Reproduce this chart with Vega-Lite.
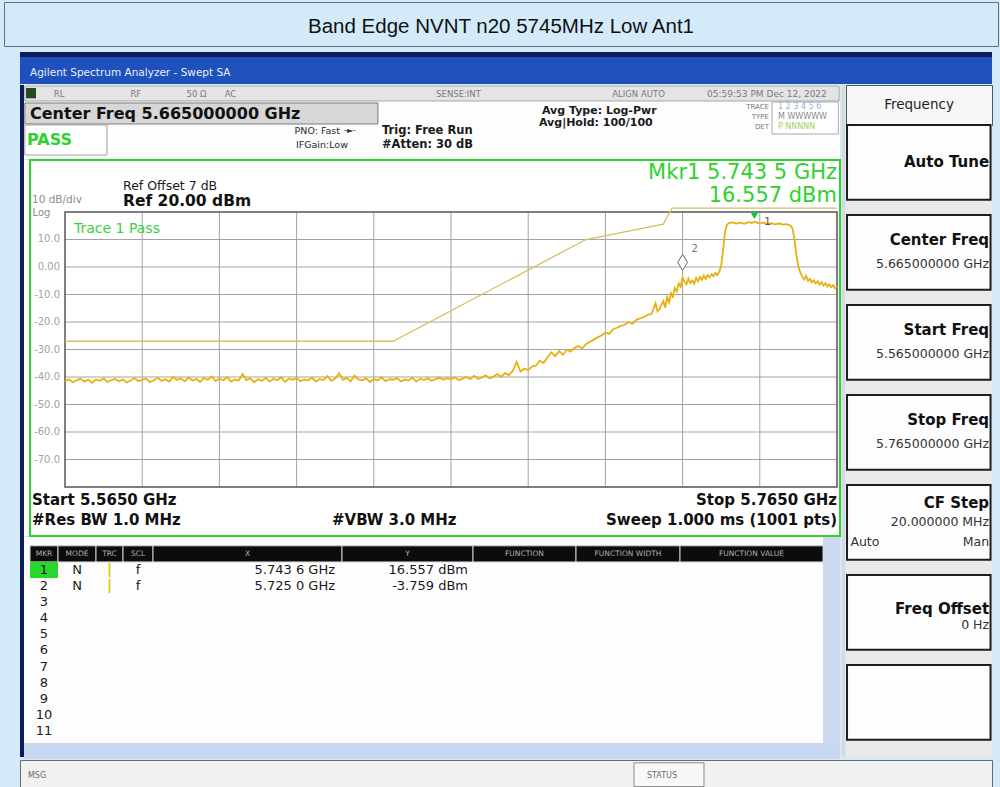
{
"$schema": "https://vega.github.io/schema/vega-lite/v6.json",
"background": "#d3ebf8",
"padding": {"left": 3, "top": 1, "right": 3, "bottom": 5},
"spacing": 5,
"config": {"view": {"stroke": null}, "axis": {"disable": true}, "legend": {"disable": true}, "text": {"font": "DejaVu Sans"}, "concat": {"spacing": 0}},
"datasets": {
"vgrid": [{"f":5.585},{"f":5.605},{"f":5.625},{"f":5.645},{"f":5.665},{"f":5.685},{"f":5.705},{"f":5.725},{"f":5.745}],
"hgrid": [{"l":10,"t":"10.0"},{"l":0,"t":"0.00"},{"l":-10,"t":"-10.0"},{"l":-20,"t":"-20.0"},{"l":-30,"t":"-30.0"},{"l":-40,"t":"-40.0"},{"l":-50,"t":"-50.0"},{"l":-60,"t":"-60.0"},{"l":-70,"t":"-70.0"}],
"limit": [{"f":5.565,"l":-27},{"f":5.65,"l":-27},{"f":5.7,"l":10},{"f":5.72,"l":15.6},{"f":5.7223,"l":21.4},{"f":5.765,"l":21.4}],
"markers": [{"mkr":"1","f":5.7436,"l":16.557},{"mkr":"2","f":5.725,"l":-3.759}],
"trace": [
{"f":5.565,"l":-41.5},{"f":5.566,"l":-40.8},{"f":5.567,"l":-41.9},{"f":5.568,"l":-41.2},{"f":5.569,"l":-40.6},{"f":5.570,"l":-41.7},{"f":5.571,"l":-41.0},{"f":5.572,"l":-42.1},{"f":5.573,"l":-40.9},{"f":5.574,"l":-41.4},
{"f":5.575,"l":-40.5},{"f":5.576,"l":-41.8},{"f":5.577,"l":-41.1},{"f":5.578,"l":-40.7},{"f":5.579,"l":-41.6},{"f":5.580,"l":-40.9},{"f":5.581,"l":-42.0},{"f":5.582,"l":-41.3},{"f":5.583,"l":-40.4},{"f":5.584,"l":-41.5},
{"f":5.585,"l":-41.0},{"f":5.586,"l":-40.6},{"f":5.587,"l":-41.9},{"f":5.588,"l":-41.2},{"f":5.589,"l":-40.3},{"f":5.590,"l":-41.4},{"f":5.591,"l":-40.8},{"f":5.592,"l":-41.7},{"f":5.593,"l":-39.9},{"f":5.594,"l":-41.1},
{"f":5.595,"l":-40.5},{"f":5.596,"l":-41.6},{"f":5.597,"l":-40.2},{"f":5.598,"l":-41.3},{"f":5.599,"l":-40.7},{"f":5.600,"l":-41.8},{"f":5.601,"l":-40.4},{"f":5.602,"l":-41.0},{"f":5.603,"l":-39.8},{"f":5.604,"l":-41.5},
{"f":5.605,"l":-40.6},{"f":5.606,"l":-41.2},{"f":5.607,"l":-40.0},{"f":5.608,"l":-41.7},{"f":5.609,"l":-40.9},{"f":5.610,"l":-41.3},{"f":5.611,"l":-38.9},{"f":5.612,"l":-41.1},{"f":5.613,"l":-40.5},{"f":5.614,"l":-41.9},
{"f":5.615,"l":-40.8},{"f":5.616,"l":-41.4},{"f":5.617,"l":-40.3},{"f":5.618,"l":-41.6},{"f":5.619,"l":-40.7},{"f":5.620,"l":-41.2},{"f":5.621,"l":-40.1},{"f":5.622,"l":-41.8},{"f":5.623,"l":-40.6},{"f":5.624,"l":-41.0},
{"f":5.625,"l":-40.4},{"f":5.626,"l":-41.5},{"f":5.627,"l":-40.9},{"f":5.628,"l":-41.3},{"f":5.629,"l":-40.2},{"f":5.630,"l":-41.7},{"f":5.631,"l":-40.8},{"f":5.632,"l":-41.1},{"f":5.633,"l":-39.7},{"f":5.634,"l":-41.4},
{"f":5.635,"l":-40.6},{"f":5.636,"l":-38.6},{"f":5.637,"l":-41.0},{"f":5.638,"l":-40.3},{"f":5.639,"l":-41.6},{"f":5.640,"l":-39.5},{"f":5.641,"l":-40.9},{"f":5.642,"l":-41.2},{"f":5.643,"l":-40.5},{"f":5.644,"l":-41.8},
{"f":5.645,"l":-40.7},{"f":5.646,"l":-41.3},{"f":5.647,"l":-40.1},{"f":5.648,"l":-41.5},{"f":5.649,"l":-40.8},{"f":5.650,"l":-41.0},{"f":5.651,"l":-40.4},{"f":5.652,"l":-41.6},{"f":5.653,"l":-40.9},{"f":5.654,"l":-41.2},
{"f":5.655,"l":-40.3},{"f":5.656,"l":-41.7},{"f":5.657,"l":-40.6},{"f":5.658,"l":-41.1},{"f":5.659,"l":-40.5},{"f":5.660,"l":-41.4},{"f":5.661,"l":-40.8},{"f":5.662,"l":-40.2},{"f":5.663,"l":-41.0},{"f":5.664,"l":-40.4},
{"f":5.665,"l":-40.9},{"f":5.666,"l":-40.1},{"f":5.667,"l":-41.2},{"f":5.668,"l":-40.6},{"f":5.669,"l":-40.0},{"f":5.670,"l":-40.8},{"f":5.671,"l":-39.6},{"f":5.672,"l":-40.7},{"f":5.673,"l":-40.2},{"f":5.674,"l":-39.4},
{"f":5.675,"l":-40.5},{"f":5.676,"l":-39.8},{"f":5.677,"l":-38.9},{"f":5.678,"l":-39.9},{"f":5.679,"l":-38.6},{"f":5.680,"l":-39.3},{"f":5.681,"l":-37.8},{"f":5.682,"l":-34.5},{"f":5.683,"l":-38.0},{"f":5.684,"l":-36.9},
{"f":5.685,"l":-37.5},{"f":5.686,"l":-36.2},{"f":5.687,"l":-35.8},{"f":5.688,"l":-34.1},{"f":5.689,"l":-34.9},{"f":5.690,"l":-32.8},{"f":5.691,"l":-31.0},{"f":5.692,"l":-32.4},{"f":5.693,"l":-30.6},{"f":5.694,"l":-31.9},
{"f":5.695,"l":-30.1},{"f":5.696,"l":-30.8},{"f":5.697,"l":-29.4},{"f":5.698,"l":-28.7},{"f":5.699,"l":-29.6},{"f":5.700,"l":-28.0},{"f":5.701,"l":-27.2},{"f":5.702,"l":-26.4},{"f":5.703,"l":-25.6},{"f":5.704,"l":-24.9},
{"f":5.705,"l":-23.8},{"f":5.706,"l":-24.3},{"f":5.707,"l":-22.6},{"f":5.708,"l":-22.1},{"f":5.709,"l":-21.4},{"f":5.710,"l":-21.0},{"f":5.711,"l":-20.1},{"f":5.712,"l":-20.6},{"f":5.713,"l":-19.2},{"f":5.714,"l":-18.7},
{"f":5.715,"l":-18.2},{"f":5.716,"l":-17.4},{"f":5.717,"l":-17.0},{"f":5.718,"l":-13.2},{"f":5.7185,"l":-16.1},{"f":5.719,"l":-15.3},{"f":5.720,"l":-12.4},{"f":5.7205,"l":-14.8},{"f":5.721,"l":-11.0},{"f":5.7215,"l":-12.9},
{"f":5.722,"l":-9.5},{"f":5.7225,"l":-10.8},{"f":5.723,"l":-7.6},{"f":5.7235,"l":-8.9},{"f":5.724,"l":-6.0},{"f":5.7245,"l":-7.2},{"f":5.725,"l":-3.76},{"f":5.7255,"l":-5.4},{"f":5.726,"l":-6.3},{"f":5.7265,"l":-4.2},
{"f":5.727,"l":-5.8},{"f":5.7275,"l":-4.9},{"f":5.728,"l":-6.1},{"f":5.7285,"l":-4.0},{"f":5.729,"l":-5.2},{"f":5.7295,"l":-3.6},{"f":5.730,"l":-4.7},{"f":5.7305,"l":-3.1},{"f":5.731,"l":-4.4},{"f":5.7315,"l":-2.9},
{"f":5.732,"l":-3.8},{"f":5.7325,"l":-2.6},{"f":5.733,"l":-3.3},{"f":5.7335,"l":-2.2},{"f":5.734,"l":-2.9},{"f":5.7345,"l":-1.8},{"f":5.735,"l":0.5},{"f":5.7355,"l":6.2},{"f":5.736,"l":12.8},{"f":5.7365,"l":15.4},
{"f":5.737,"l":16.0},{"f":5.738,"l":16.2},{"f":5.739,"l":15.8},{"f":5.740,"l":16.1},{"f":5.741,"l":15.7},{"f":5.742,"l":16.3},{"f":5.743,"l":16.0},{"f":5.7436,"l":16.557},{"f":5.744,"l":16.2},{"f":5.745,"l":15.9},
{"f":5.746,"l":16.1},{"f":5.747,"l":15.6},{"f":5.748,"l":15.9},{"f":5.749,"l":15.5},{"f":5.750,"l":15.8},{"f":5.751,"l":15.4},{"f":5.752,"l":15.6},{"f":5.753,"l":15.0},{"f":5.7535,"l":13.9},{"f":5.754,"l":9.8},
{"f":5.7545,"l":4.1},{"f":5.755,"l":0.2},{"f":5.7555,"l":-2.1},{"f":5.756,"l":-3.5},{"f":5.7565,"l":-4.6},{"f":5.757,"l":-3.2},{"f":5.7575,"l":-5.1},{"f":5.758,"l":-4.3},{"f":5.7585,"l":-5.6},{"f":5.759,"l":-4.8},
{"f":5.7595,"l":-6.0},{"f":5.760,"l":-5.2},{"f":5.7605,"l":-6.4},{"f":5.761,"l":-5.5},{"f":5.7615,"l":-6.8},{"f":5.762,"l":-5.9},{"f":5.7625,"l":-7.1},{"f":5.763,"l":-6.3},{"f":5.7635,"l":-7.4},{"f":5.764,"l":-6.6},
{"f":5.7645,"l":-7.8},{"f":5.765,"l":-7.0}],
"tbl": [
{"row":0,"mkr":"MKR","mode":"MODE","trc":"TRC","scl":"SCL","x":"X","y":"Y","fn":"FUNCTION","fw":"FUNCTION WIDTH","fv":"FUNCTION VALUE"},
{"row":1,"mkr":"1","mode":"N","trc":"|","scl":"f","x":"5.743 6 GHz","y":"16.557 dBm","fn":"","fw":"","fv":""},
{"row":2,"mkr":"2","mode":"N","trc":"|","scl":"f","x":"5.725 0 GHz","y":"-3.759 dBm","fn":"","fw":"","fv":""},
{"row":3,"mkr":"3","mode":"","trc":"","scl":"","x":"","y":"","fn":"","fw":"","fv":""},
{"row":4,"mkr":"4","mode":"","trc":"","scl":"","x":"","y":"","fn":"","fw":"","fv":""},
{"row":5,"mkr":"5","mode":"","trc":"","scl":"","x":"","y":"","fn":"","fw":"","fv":""},
{"row":6,"mkr":"6","mode":"","trc":"","scl":"","x":"","y":"","fn":"","fw":"","fv":""},
{"row":7,"mkr":"7","mode":"","trc":"","scl":"","x":"","y":"","fn":"","fw":"","fv":""},
{"row":8,"mkr":"8","mode":"","trc":"","scl":"","x":"","y":"","fn":"","fw":"","fv":""},
{"row":9,"mkr":"9","mode":"","trc":"","scl":"","x":"","y":"","fn":"","fw":"","fv":""},
{"row":10,"mkr":"10","mode":"","trc":"","scl":"","x":"","y":"","fn":"","fw":"","fv":""},
{"row":11,"mkr":"11","mode":"","trc":"","scl":"","x":"","y":"","fn":"","fw":"","fv":""}],
"keys": [
{"k":"k1","title":"Auto Tune","value":"","optL":"","optR":""},
{"k":"k2","title":"Center Freq","value":"5.665000000 GHz","optL":"","optR":""},
{"k":"k3","title":"Start Freq","value":"5.565000000 GHz","optL":"","optR":""},
{"k":"k4","title":"Stop Freq","value":"5.765000000 GHz","optL":"","optR":""},
{"k":"k5","title":"CF Step","value":"20.000000 MHz","optL":"Auto","optR":"Man"},
{"k":"k6","title":"Freq Offset","value":"0 Hz","optL":"","optR":""},
{"k":"k7","title":"","value":"","optL":"","optR":""}]
},
"vconcat": [
{"width": 994, "height": 44, "view": {"stroke": "#5f6f7c", "strokeWidth": 1}, "data": {"values": [{}]},
 "mark": {"type": "text", "text": "Band Edge NVNT n20 5745MHz Low Ant1", "font": "Liberation Sans", "fontSize": 20.5, "color": "#111111", "dy": 3}},
{"spacing": 0, "hconcat": [
 {"width": 15, "height": 732, "view": {"fill": "#d3ebf8"}, "data": {"values": []}, "mark": "rect", "encoding": {}},
 {"spacing": 0, "vconcat": [
  {"width": 972, "height": 5, "view": {"fill": "#0d1c58"}, "data": {"values": []}, "mark": "rect", "encoding": {}},
  {"width": 972, "height": 27, "view": {"fill": "#1f51bd"}, "data": {"values": [{}]},
   "mark": {"type": "text", "text": "Agilent Spectrum Analyzer - Swept SA", "align": "left", "fontSize": 10.5, "color": "#e8eeff"},
   "encoding": {"x": {"datum": 0.0103, "type": "quantitative", "scale": {"domain": [0, 1], "nice": false, "zero": false}}, "y": {"datum": 0.59, "type": "quantitative", "scale": {"domain": [0, 1], "nice": false, "zero": false, "reverse": true}}}},
  {"spacing": 0, "hconcat": [
   {"width": 4, "height": 672, "view": {"fill": "#0d1c58"}, "data": {"values": []}, "mark": "rect", "encoding": {}},
   {"spacing": 0, "vconcat": [
    {"width": 816, "height": 74, "view": {"fill": "#fdfdfd"}, "data": {"values": [{}]},
     "layer": [
      {"mark": {"type": "rect", "fill": "#e4e4e4", "stroke": "#a6a6a6", "strokeWidth": 1}, "encoding": {"x": {"datum": 0.001, "type": "quantitative", "scale": {"domain": [0, 1], "nice": false, "zero": false}}, "x2": {"datum": 0.999}, "y": {"datum": 0.0135, "type": "quantitative", "scale": {"domain": [0, 1], "nice": false, "zero": false, "reverse": true}}, "y2": {"datum": 0.2162}}},
      {"mark": {"type": "rect", "fill": "#234a23"}, "encoding": {"x": {"datum": 0.0025, "type": "quantitative"}, "x2": {"datum": 0.0147}, "y": {"datum": 0.04, "type": "quantitative"}, "y2": {"datum": 0.18}}},
      {"mark": {"type": "rect", "fill": "#d7d7d7", "stroke": "#7d7d7d", "strokeWidth": 1}, "encoding": {"x": {"datum": 0.001, "type": "quantitative"}, "x2": {"datum": 0.4338}, "y": {"datum": 0.2432, "type": "quantitative"}, "y2": {"datum": 0.527}}},
      {"mark": {"type": "rect", "fill": "#ffffff", "stroke": "#a0a0a0", "strokeWidth": 1}, "encoding": {"x": {"datum": 0.001, "type": "quantitative"}, "x2": {"datum": 0.1017}, "y": {"datum": 0.5405, "type": "quantitative"}, "y2": {"datum": 0.946}}},
      {"mark": {"type": "rect", "fill": "#ffffff", "stroke": "#a8a8a8", "strokeWidth": 1}, "encoding": {"x": {"datum": 0.9167, "type": "quantitative"}, "x2": {"datum": 0.998}, "y": {"datum": 0.2297, "type": "quantitative"}, "y2": {"datum": 0.662}}},
      {"mark": {"type": "text", "text": "RL", "fontSize": 8.5, "color": "#7a7a7a"}, "encoding": {"x": {"datum": 0.043, "type": "quantitative"}, "y": {"datum": 0.115, "type": "quantitative"}}},
      {"mark": {"type": "text", "text": "RF", "fontSize": 8.5, "color": "#7a7a7a"}, "encoding": {"x": {"datum": 0.137, "type": "quantitative"}, "y": {"datum": 0.115, "type": "quantitative"}}},
      {"mark": {"type": "text", "text": "50 Ω", "fontSize": 8.5, "color": "#7a7a7a"}, "encoding": {"x": {"datum": 0.2114, "type": "quantitative"}, "y": {"datum": 0.115, "type": "quantitative"}}},
      {"mark": {"type": "text", "text": "AC", "fontSize": 8.5, "color": "#7a7a7a"}, "encoding": {"x": {"datum": 0.253, "type": "quantitative"}, "y": {"datum": 0.115, "type": "quantitative"}}},
      {"mark": {"type": "text", "text": "SENSE:INT", "fontSize": 8.5, "color": "#7a7a7a"}, "encoding": {"x": {"datum": 0.5325, "type": "quantitative"}, "y": {"datum": 0.115, "type": "quantitative"}}},
      {"mark": {"type": "text", "text": "ALIGN AUTO", "fontSize": 8.5, "color": "#7a7a7a"}, "encoding": {"x": {"datum": 0.7531, "type": "quantitative"}, "y": {"datum": 0.115, "type": "quantitative"}}},
      {"mark": {"type": "text", "text": "05:59:53 PM Dec 12, 2022", "fontSize": 9, "color": "#7a7a7a"}, "encoding": {"x": {"datum": 0.9105, "type": "quantitative"}, "y": {"datum": 0.115, "type": "quantitative"}}},
      {"mark": {"type": "text", "text": "Center Freq 5.665000000 GHz", "align": "left", "fontSize": 16, "fontWeight": "bold", "color": "#111111"}, "encoding": {"x": {"datum": 0.00735, "type": "quantitative"}, "y": {"datum": 0.392, "type": "quantitative"}}},
      {"mark": {"type": "text", "text": "PASS", "align": "left", "fontSize": 16, "fontWeight": "bold", "color": "#2ed12e"}, "encoding": {"x": {"datum": 0.00368, "type": "quantitative"}, "y": {"datum": 0.743, "type": "quantitative"}}},
      {"mark": {"type": "text", "text": "PNO: Fast", "align": "right", "fontSize": 9.5, "color": "#2a2a2a"}, "encoding": {"x": {"datum": 0.3873, "type": "quantitative"}, "y": {"datum": 0.6216, "type": "quantitative"}}},
      {"mark": {"type": "text", "text": "-►-", "align": "left", "fontSize": 8, "color": "#2a2a2a"}, "encoding": {"x": {"datum": 0.3922, "type": "quantitative"}, "y": {"datum": 0.6216, "type": "quantitative"}}},
      {"mark": {"type": "text", "text": "IFGain:Low", "align": "right", "fontSize": 9.5, "color": "#2a2a2a"}, "encoding": {"x": {"datum": 0.397, "type": "quantitative"}, "y": {"datum": 0.8108, "type": "quantitative"}}},
      {"mark": {"type": "text", "text": "Trig: Free Run", "align": "left", "fontSize": 11.5, "fontWeight": "bold", "color": "#1a1a1a"}, "encoding": {"x": {"datum": 0.4387, "type": "quantitative"}, "y": {"datum": 0.628, "type": "quantitative"}}},
      {"mark": {"type": "text", "text": "#Atten: 30 dB", "align": "left", "fontSize": 11.5, "fontWeight": "bold", "color": "#1a1a1a"}, "encoding": {"x": {"datum": 0.4387, "type": "quantitative"}, "y": {"datum": 0.807, "type": "quantitative"}}},
      {"mark": {"type": "text", "text": "Avg Type: Log-Pwr", "align": "left", "fontSize": 11, "fontWeight": "bold", "color": "#1a1a1a"}, "encoding": {"x": {"datum": 0.6348, "type": "quantitative"}, "y": {"datum": 0.345, "type": "quantitative"}}},
      {"mark": {"type": "text", "text": "Avg|Hold: 100/100", "align": "left", "fontSize": 11, "fontWeight": "bold", "color": "#1a1a1a"}, "encoding": {"x": {"datum": 0.6311, "type": "quantitative"}, "y": {"datum": 0.51, "type": "quantitative"}}},
      {"mark": {"type": "text", "text": "TRACE", "align": "right", "fontSize": 7, "color": "#777777"}, "encoding": {"x": {"datum": 0.913, "type": "quantitative"}, "y": {"datum": 0.297, "type": "quantitative"}}},
      {"mark": {"type": "text", "text": "TYPE", "align": "right", "fontSize": 7, "color": "#777777"}, "encoding": {"x": {"datum": 0.913, "type": "quantitative"}, "y": {"datum": 0.4324, "type": "quantitative"}}},
      {"mark": {"type": "text", "text": "DET", "align": "right", "fontSize": 7, "color": "#777777"}, "encoding": {"x": {"datum": 0.913, "type": "quantitative"}, "y": {"datum": 0.5676, "type": "quantitative"}}},
      {"mark": {"type": "text", "text": "1 2 3 4 5 6", "align": "left", "fontSize": 8, "color": "#8ab4d8"}, "encoding": {"x": {"datum": 0.924, "type": "quantitative"}, "y": {"datum": 0.297, "type": "quantitative"}}},
      {"mark": {"type": "text", "text": "M WWWWW", "align": "left", "fontSize": 8, "color": "#8a8a8a"}, "encoding": {"x": {"datum": 0.924, "type": "quantitative"}, "y": {"datum": 0.4324, "type": "quantitative"}}},
      {"mark": {"type": "text", "text": "P NNNNN", "align": "left", "fontSize": 8, "color": "#a6cc66"}, "encoding": {"x": {"datum": 0.924, "type": "quantitative"}, "y": {"datum": 0.5676, "type": "quantitative"}}}
     ]},
    {"spacing": 0, "bounds": "flush", "hconcat": [
     {"width": 6, "height": 376, "view": {"fill": "#fdfdfd"}, "data": {"values": []}, "mark": "rect", "encoding": {}},
     {"width": 810, "height": 376, "view": {"fill": "#ffffff", "stroke": "#2bd42b", "strokeWidth": 2},
      "layer": [
       {"data": {"name": "vgrid"}, "mark": {"type": "rule", "color": "#a3a3a3", "strokeWidth": 1}, "encoding": {"x": {"field": "f", "type": "quantitative", "scale": {"domain": [5.55593, 5.76578], "nice": false, "zero": false}}, "y": {"datum": -80, "type": "quantitative", "scale": {"domain": [-97.818, 38.909], "nice": false, "zero": false}}, "y2": {"datum": 20}}},
       {"data": {"name": "hgrid"}, "mark": {"type": "rule", "color": "#a3a3a3", "strokeWidth": 1}, "encoding": {"y": {"field": "l", "type": "quantitative"}, "x": {"datum": 5.565, "type": "quantitative"}, "x2": {"datum": 5.765}}},
       {"data": {"name": "hgrid"}, "mark": {"type": "text", "align": "right", "dx": -5, "fontSize": 10, "color": "#a2a2a2"}, "encoding": {"y": {"field": "l", "type": "quantitative"}, "x": {"datum": 5.565, "type": "quantitative"}, "text": {"field": "t"}}},
       {"data": {"values": [{}]}, "mark": {"type": "rect", "fillOpacity": 0, "stroke": "#555555", "strokeWidth": 1.5}, "encoding": {"x": {"datum": 5.565, "type": "quantitative"}, "x2": {"datum": 5.765}, "y": {"datum": -80, "type": "quantitative"}, "y2": {"datum": 20}}},
       {"data": {"name": "limit"}, "mark": {"type": "line", "color": "#d4c060", "strokeWidth": 1.3}, "encoding": {"x": {"field": "f", "type": "quantitative"}, "y": {"field": "l", "type": "quantitative"}}},
       {"data": {"name": "trace"}, "mark": {"type": "line", "color": "#e8b010", "strokeWidth": 1.8}, "encoding": {"x": {"field": "f", "type": "quantitative"}, "y": {"field": "l", "type": "quantitative"}}},
       {"data": {"name": "markers"}, "transform": [{"filter": "datum.mkr == '1'"}], "mark": {"type": "point", "shape": "triangle-down", "filled": true, "color": "#22c03a", "size": 70, "opacity": 1, "yOffset": -6}, "encoding": {"x": {"field": "f", "type": "quantitative"}, "y": {"field": "l", "type": "quantitative"}}},
       {"data": {"name": "markers"}, "transform": [{"filter": "datum.mkr == '1'"}], "mark": {"type": "text", "dx": 13, "dy": 1, "fontSize": 11, "color": "#555555"}, "encoding": {"x": {"field": "f", "type": "quantitative"}, "y": {"field": "l", "type": "quantitative"}, "text": {"field": "mkr"}}},
       {"data": {"name": "markers"}, "transform": [{"filter": "datum.mkr == '2'"}], "mark": {"type": "point", "shape": "M0,-1.3L0.8,0L0,1.3L-0.8,0Z", "filled": true, "fill": "#ffffff", "stroke": "#666666", "strokeWidth": 1, "size": 150, "opacity": 1, "yOffset": -15}, "encoding": {"x": {"field": "f", "type": "quantitative"}, "y": {"field": "l", "type": "quantitative"}}},
       {"data": {"name": "markers"}, "transform": [{"filter": "datum.mkr == '2'"}], "mark": {"type": "text", "dx": 12, "dy": -28, "fontSize": 10, "color": "#777777"}, "encoding": {"x": {"field": "f", "type": "quantitative"}, "y": {"field": "l", "type": "quantitative"}, "text": {"field": "mkr"}}},
       {"data": {"values": [{}]}, "mark": {"type": "text", "text": "10 dB/div", "align": "left", "fontSize": 10.5, "color": "#8c8c8c"}, "encoding": {"x": {"datum": 5.55645, "type": "quantitative"}, "y": {"datum": 24.36, "type": "quantitative"}}},
       {"data": {"values": [{}]}, "mark": {"type": "text", "text": "Log", "align": "left", "fontSize": 10, "color": "#8c8c8c"}, "encoding": {"x": {"datum": 5.5566, "type": "quantitative"}, "y": {"datum": 19.6, "type": "quantitative"}}},
       {"data": {"values": [{}]}, "mark": {"type": "text", "text": "Ref Offset 7 dB", "align": "left", "fontSize": 12.5, "color": "#1a1a1a"}, "encoding": {"x": {"datum": 5.58003, "type": "quantitative"}, "y": {"datum": 29.45, "type": "quantitative"}}},
       {"data": {"values": [{}]}, "mark": {"type": "text", "text": "Ref 20.00 dBm", "align": "left", "fontSize": 15.5, "fontWeight": "bold", "color": "#111111"}, "encoding": {"x": {"datum": 5.58003, "type": "quantitative"}, "y": {"datum": 24.0, "type": "quantitative"}}},
       {"data": {"values": [{}]}, "mark": {"type": "text", "text": "Mkr1 5.743 5 GHz", "align": "right", "fontSize": 21, "color": "#2ed22e"}, "encoding": {"x": {"datum": 5.765, "type": "quantitative"}, "y": {"datum": 34.18, "type": "quantitative"}}},
       {"data": {"values": [{}]}, "mark": {"type": "text", "text": "16.557 dBm", "align": "right", "fontSize": 21, "color": "#2ed22e"}, "encoding": {"x": {"datum": 5.765, "type": "quantitative"}, "y": {"datum": 25.82, "type": "quantitative"}}},
       {"data": {"values": [{}]}, "mark": {"type": "text", "text": "Trace 1 Pass", "align": "left", "fontSize": 14, "color": "#38d13f"}, "encoding": {"x": {"datum": 5.56733, "type": "quantitative"}, "y": {"datum": 13.8, "type": "quantitative"}}},
       {"data": {"values": [{}]}, "mark": {"type": "text", "text": "Start 5.5650 GHz", "align": "left", "fontSize": 15, "fontWeight": "bold", "color": "#111111"}, "encoding": {"x": {"datum": 5.55645, "type": "quantitative"}, "y": {"datum": -84.73, "type": "quantitative"}}},
       {"data": {"values": [{}]}, "mark": {"type": "text", "text": "#Res BW 1.0 MHz", "align": "left", "fontSize": 15, "fontWeight": "bold", "color": "#111111"}, "encoding": {"x": {"datum": 5.55645, "type": "quantitative"}, "y": {"datum": -92.18, "type": "quantitative"}}},
       {"data": {"values": [{}]}, "mark": {"type": "text", "text": "#VBW 3.0 MHz", "align": "left", "fontSize": 15, "fontWeight": "bold", "color": "#111111"}, "encoding": {"x": {"datum": 5.63417, "type": "quantitative"}, "y": {"datum": -92.18, "type": "quantitative"}}},
       {"data": {"values": [{}]}, "mark": {"type": "text", "text": "Stop 5.7650 GHz", "align": "right", "fontSize": 15, "fontWeight": "bold", "color": "#111111"}, "encoding": {"x": {"datum": 5.765, "type": "quantitative"}, "y": {"datum": -84.73, "type": "quantitative"}}},
       {"data": {"values": [{}]}, "mark": {"type": "text", "text": "Sweep  1.000 ms (1001 pts)", "align": "right", "fontSize": 15, "fontWeight": "bold", "color": "#111111"}, "encoding": {"x": {"datum": 5.765, "type": "quantitative"}, "y": {"datum": -92.18, "type": "quantitative"}}}
      ]}
    ]},
    {"spacing": 0, "bounds": "flush", "hconcat": [
     {"width": 6, "height": 206, "view": {"fill": "#fdfdfd"}, "data": {"values": []}, "mark": "rect", "encoding": {}},
     {"width": 28, "height": 206, "view": {"fill": "#fdfdfd"}, "data": {"name": "tbl"},
      "encoding": {"y": {"field": "row", "type": "ordinal", "scale": {"type": "band", "domain": [0,1,2,3,4,5,6,7,8,9,10,11], "paddingInner": 0, "paddingOuter": 0.3975, "align": 0.69}}},
      "layer": [
       {"transform": [{"filter": "datum.row == 0"}], "mark": {"type": "rect", "fill": "#0c0c0c", "stroke": "#cfcfcf", "strokeWidth": 1}},
       {"transform": [{"filter": "datum.row == 1"}], "mark": {"type": "rect", "fill": "#2ad62a"}},
       {"transform": [{"filter": "datum.row == 0"}], "mark": {"type": "text", "fontSize": 7.5, "color": "#b0b0b0"}, "encoding": {"text": {"field": "mkr"}}},
       {"transform": [{"filter": "datum.row > 0"}], "mark": {"type": "text", "fontSize": 13, "color": "#1a1a1a"}, "encoding": {"text": {"field": "mkr"}}}
      ]},
     {"width": 38, "height": 206, "view": {"fill": "#fdfdfd"}, "data": {"name": "tbl"},
      "encoding": {"y": {"field": "row", "type": "ordinal", "scale": {"type": "band", "domain": [0,1,2,3,4,5,6,7,8,9,10,11], "paddingInner": 0, "paddingOuter": 0.3975, "align": 0.69}}},
      "layer": [
       {"transform": [{"filter": "datum.row == 0"}], "mark": {"type": "rect", "fill": "#0c0c0c", "stroke": "#cfcfcf", "strokeWidth": 1}},
       {"transform": [{"filter": "datum.row == 0"}], "mark": {"type": "text", "fontSize": 7.5, "color": "#b0b0b0"}, "encoding": {"text": {"field": "mode"}}},
       {"transform": [{"filter": "datum.row > 0"}], "mark": {"type": "text", "fontSize": 13, "color": "#1a1a1a"}, "encoding": {"text": {"field": "mode"}}}
      ]},
     {"width": 27, "height": 206, "view": {"fill": "#fdfdfd"}, "data": {"name": "tbl"},
      "encoding": {"y": {"field": "row", "type": "ordinal", "scale": {"type": "band", "domain": [0,1,2,3,4,5,6,7,8,9,10,11], "paddingInner": 0, "paddingOuter": 0.3975, "align": 0.69}}},
      "layer": [
       {"transform": [{"filter": "datum.row == 0"}], "mark": {"type": "rect", "fill": "#0c0c0c", "stroke": "#cfcfcf", "strokeWidth": 1}},
       {"transform": [{"filter": "datum.row == 0"}], "mark": {"type": "text", "fontSize": 7.5, "color": "#b0b0b0"}, "encoding": {"text": {"field": "trc"}}},
       {"transform": [{"filter": "datum.row > 0"}], "mark": {"type": "text", "fontSize": 14, "fontWeight": "bold", "color": "#e7c300"}, "encoding": {"text": {"field": "trc"}}}
      ]},
     {"width": 30, "height": 206, "view": {"fill": "#fdfdfd"}, "data": {"name": "tbl"},
      "encoding": {"y": {"field": "row", "type": "ordinal", "scale": {"type": "band", "domain": [0,1,2,3,4,5,6,7,8,9,10,11], "paddingInner": 0, "paddingOuter": 0.3975, "align": 0.69}}},
      "layer": [
       {"transform": [{"filter": "datum.row == 0"}], "mark": {"type": "rect", "fill": "#0c0c0c", "stroke": "#cfcfcf", "strokeWidth": 1}},
       {"transform": [{"filter": "datum.row == 0"}], "mark": {"type": "text", "fontSize": 7.5, "color": "#b0b0b0"}, "encoding": {"text": {"field": "scl"}}},
       {"transform": [{"filter": "datum.row > 0"}], "mark": {"type": "text", "fontSize": 13, "color": "#1a1a1a"}, "encoding": {"text": {"field": "scl"}}}
      ]},
     {"width": 189, "height": 206, "view": {"fill": "#fdfdfd"}, "data": {"name": "tbl"},
      "encoding": {"y": {"field": "row", "type": "ordinal", "scale": {"type": "band", "domain": [0,1,2,3,4,5,6,7,8,9,10,11], "paddingInner": 0, "paddingOuter": 0.3975, "align": 0.69}}},
      "layer": [
       {"transform": [{"filter": "datum.row == 0"}], "mark": {"type": "rect", "fill": "#0c0c0c", "stroke": "#cfcfcf", "strokeWidth": 1}},
       {"transform": [{"filter": "datum.row == 0"}], "mark": {"type": "text", "fontSize": 7.5, "color": "#b0b0b0"}, "encoding": {"text": {"field": "x"}}},
       {"transform": [{"filter": "datum.row > 0"}], "mark": {"type": "text", "align": "right", "dx": 87.5, "fontSize": 13, "color": "#1a1a1a"}, "encoding": {"text": {"field": "x"}}}
      ]},
     {"width": 131, "height": 206, "view": {"fill": "#fdfdfd"}, "data": {"name": "tbl"},
      "encoding": {"y": {"field": "row", "type": "ordinal", "scale": {"type": "band", "domain": [0,1,2,3,4,5,6,7,8,9,10,11], "paddingInner": 0, "paddingOuter": 0.3975, "align": 0.69}}},
      "layer": [
       {"transform": [{"filter": "datum.row == 0"}], "mark": {"type": "rect", "fill": "#0c0c0c", "stroke": "#cfcfcf", "strokeWidth": 1}},
       {"transform": [{"filter": "datum.row == 0"}], "mark": {"type": "text", "fontSize": 7.5, "color": "#b0b0b0"}, "encoding": {"text": {"field": "y"}}},
       {"transform": [{"filter": "datum.row > 0"}], "mark": {"type": "text", "align": "right", "dx": 60.5, "fontSize": 13, "color": "#1a1a1a"}, "encoding": {"text": {"field": "y"}}}
      ]},
     {"width": 103, "height": 206, "view": {"fill": "#fdfdfd"}, "data": {"name": "tbl"},
      "encoding": {"y": {"field": "row", "type": "ordinal", "scale": {"type": "band", "domain": [0,1,2,3,4,5,6,7,8,9,10,11], "paddingInner": 0, "paddingOuter": 0.3975, "align": 0.69}}},
      "layer": [
       {"transform": [{"filter": "datum.row == 0"}], "mark": {"type": "rect", "fill": "#0c0c0c", "stroke": "#cfcfcf", "strokeWidth": 1}},
       {"transform": [{"filter": "datum.row == 0"}], "mark": {"type": "text", "fontSize": 7.5, "color": "#b0b0b0"}, "encoding": {"text": {"field": "fn"}}}
      ]},
     {"width": 104, "height": 206, "view": {"fill": "#fdfdfd"}, "data": {"name": "tbl"},
      "encoding": {"y": {"field": "row", "type": "ordinal", "scale": {"type": "band", "domain": [0,1,2,3,4,5,6,7,8,9,10,11], "paddingInner": 0, "paddingOuter": 0.3975, "align": 0.69}}},
      "layer": [
       {"transform": [{"filter": "datum.row == 0"}], "mark": {"type": "rect", "fill": "#0c0c0c", "stroke": "#cfcfcf", "strokeWidth": 1}},
       {"transform": [{"filter": "datum.row == 0"}], "mark": {"type": "text", "fontSize": 7.5, "color": "#b0b0b0"}, "encoding": {"text": {"field": "fw"}}}
      ]},
     {"width": 143, "height": 206, "view": {"fill": "#fdfdfd"}, "data": {"name": "tbl"},
      "encoding": {"y": {"field": "row", "type": "ordinal", "scale": {"type": "band", "domain": [0,1,2,3,4,5,6,7,8,9,10,11], "paddingInner": 0, "paddingOuter": 0.3975, "align": 0.69}}},
      "layer": [
       {"transform": [{"filter": "datum.row == 0"}], "mark": {"type": "rect", "fill": "#0c0c0c", "stroke": "#cfcfcf", "strokeWidth": 1}},
       {"transform": [{"filter": "datum.row == 0"}], "mark": {"type": "text", "fontSize": 7.5, "color": "#b0b0b0"}, "encoding": {"text": {"field": "fv"}}}
      ]},
     {"width": 17, "height": 206, "view": {"fill": "#cdd8f0"}, "data": {"values": []}, "mark": "rect", "encoding": {}}
    ]},
    {"width": 816, "height": 16, "view": {"fill": "#c9d6f0"}, "data": {"values": []}, "mark": "rect", "encoding": {}}
   ]},
   {"width": 3, "height": 672, "view": {"fill": "#d9d9d9"}, "data": {"values": []}, "mark": "rect", "encoding": {}},
   {"spacing": 0, "bounds": "flush", "vconcat": [
    {"width": 146, "height": 40, "view": {"fill": "#f7f7f7", "stroke": "#555555", "strokeWidth": 1}, "data": {"values": [{}]},
     "mark": {"type": "text", "text": "Frequency", "fontSize": 13.5, "color": "#222222"}},
    {"width": 146, "height": 632, "view": {"fill": "#e9e9e9"}, "data": {"name": "keys"},
     "encoding": {"y": {"field": "k", "type": "nominal", "scale": {"type": "band", "domain": ["k1","k2","k3","k4","k5","k6","k7"], "paddingInner": 0.17, "paddingOuter": 0.0961, "align": 0}}},
     "layer": [
      {"mark": {"type": "rect", "fill": "#fdfdfd", "stroke": "#1e1e1e", "strokeWidth": 2}, "encoding": {"x": {"datum": 0.007, "type": "quantitative", "scale": {"domain": [0, 1], "nice": false, "zero": false}}, "x2": {"datum": 0.99}}},
      {"transform": [{"filter": "datum.k == 'k1'"}], "mark": {"type": "text", "align": "right", "fontSize": 15, "fontWeight": "bold", "color": "#111111"}, "encoding": {"x": {"datum": 0.98, "type": "quantitative"}, "text": {"field": "title"}}},
      {"transform": [{"filter": "datum.k == 'k2' || datum.k == 'k3' || datum.k == 'k4'"}], "mark": {"type": "text", "align": "right", "dy": -12, "fontSize": 15, "fontWeight": "bold", "color": "#111111"}, "encoding": {"x": {"datum": 0.98, "type": "quantitative"}, "text": {"field": "title"}}},
      {"transform": [{"filter": "datum.k == 'k2' || datum.k == 'k3' || datum.k == 'k4'"}], "mark": {"type": "text", "align": "right", "dy": 12, "fontSize": 12.5, "color": "#333333"}, "encoding": {"x": {"datum": 0.98, "type": "quantitative"}, "text": {"field": "value"}}},
      {"transform": [{"filter": "datum.k == 'k5'"}], "mark": {"type": "text", "align": "right", "dy": -19.5, "fontSize": 15, "fontWeight": "bold", "color": "#111111"}, "encoding": {"x": {"datum": 0.98, "type": "quantitative"}, "text": {"field": "title"}}},
      {"transform": [{"filter": "datum.k == 'k5'"}], "mark": {"type": "text", "align": "right", "dy": 0, "fontSize": 12.5, "color": "#333333"}, "encoding": {"x": {"datum": 0.98, "type": "quantitative"}, "text": {"field": "value"}}},
      {"transform": [{"filter": "datum.k == 'k5'"}], "mark": {"type": "text", "align": "right", "dy": 19.5, "fontSize": 12.5, "color": "#333333"}, "encoding": {"x": {"datum": 0.98, "type": "quantitative"}, "text": {"field": "optR"}}},
      {"transform": [{"filter": "datum.k == 'k5'"}], "mark": {"type": "text", "align": "left", "dy": 19.5, "fontSize": 12.5, "color": "#333333"}, "encoding": {"x": {"datum": 0.03, "type": "quantitative"}, "text": {"field": "optL"}}},
      {"transform": [{"filter": "datum.k == 'k6'"}], "mark": {"type": "text", "align": "right", "dy": -3, "fontSize": 15, "fontWeight": "bold", "color": "#111111"}, "encoding": {"x": {"datum": 0.98, "type": "quantitative"}, "text": {"field": "title"}}},
      {"transform": [{"filter": "datum.k == 'k6'"}], "mark": {"type": "text", "align": "right", "dy": 13, "fontSize": 12.5, "color": "#333333"}, "encoding": {"x": {"datum": 0.98, "type": "quantitative"}, "text": {"field": "value"}}}
     ]}
   ]}
  ]},
  {"width": 972, "height": 28, "view": {"fill": "#f1f1f1", "stroke": "#6a6a6a", "strokeWidth": 1}, "data": {"values": [{}]},
   "layer": [
    {"mark": {"type": "rect", "fill": "#f8f8f8", "stroke": "#8a8a8a", "strokeWidth": 1}, "encoding": {"x": {"datum": 0.6317, "type": "quantitative", "scale": {"domain": [0, 1], "nice": false, "zero": false}}, "x2": {"datum": 0.7037}, "y": {"datum": 0.1, "type": "quantitative", "scale": {"domain": [0, 1], "nice": false, "zero": false, "reverse": true}}, "y2": {"datum": 0.95}}},
    {"mark": {"type": "text", "text": "MSG", "align": "left", "fontSize": 8, "color": "#6a6a6a"}, "encoding": {"x": {"datum": 0.0082, "type": "quantitative"}, "y": {"datum": 0.571, "type": "quantitative"}}},
    {"mark": {"type": "text", "text": "STATUS", "fontSize": 8, "color": "#6a6a6a"}, "encoding": {"x": {"datum": 0.6605, "type": "quantitative"}, "y": {"datum": 0.571, "type": "quantitative"}}}
   ]}
 ]}
]}
]
}
